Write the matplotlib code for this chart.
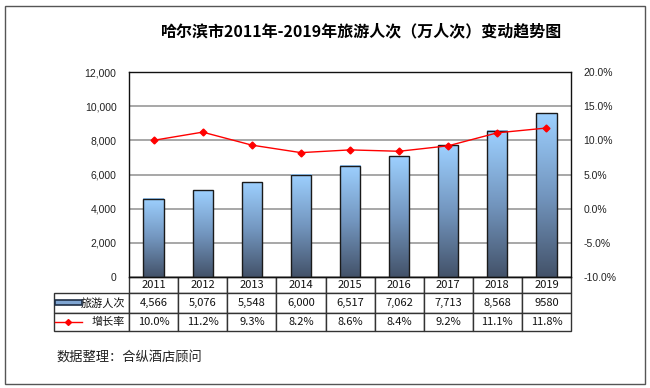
import numpy as np
import matplotlib
matplotlib.use("Agg")
import matplotlib.pyplot as plt
from matplotlib.patches import Rectangle
from matplotlib.lines import Line2D
from matplotlib.colors import LinearSegmentedColormap
from matplotlib.table import Table

plt.rcParams['font.family'] = ['Liberation Sans', 'Noto Sans CJK SC', 'DejaVu Sans']

years = ['2011', '2012', '2013', '2014', '2015', '2016', '2017', '2018', '2019']
visitors = [4566, 5076, 5548, 6000, 6517, 7062, 7713, 8568, 9580]
visitor_labels = ['4,566', '5,076', '5,548', '6,000', '6,517', '7,062', '7,713', '8,568', '9580']
growth = [10.0, 11.2, 9.3, 8.2, 8.6, 8.4, 9.2, 11.1, 11.8]
row_names = ['旅游人次', '增长率']

W, H = 650, 388
fig = plt.figure(figsize=(6.5, 3.88), dpi=100)

# outer frame
fig.add_artist(Rectangle((5 / W, 1 - 384 / H), 640 / W, 378 / H, transform=fig.transFigure,
                         fill=False, edgecolor='#555555', lw=1.0))

fig.text(362 / W, 1 - 31 / H, '哈尔滨市2011年-2019年旅游人次（万人次）变动趋势图',
         ha='center', va='center', fontsize=11.5, fontweight='bold',
         family=['Noto Sans CJK SC', 'DejaVu Sans'])

ax = fig.add_axes([129 / W, 1 - 277 / H, 442 / W, 205 / H])
x = np.arange(len(years))

cmap = LinearSegmentedColormap.from_list('bar', ['#435269', '#7396bf', '#9dd0ff'])
grad = np.linspace(0, 1, 256).reshape(-1, 1)
bars = ax.bar(x, visitors, width=0.41, facecolor='none', edgecolor='#1a1a1a', lw=1.0, zorder=3)
for b in bars:
    ax.imshow(grad, extent=[b.get_x(), b.get_x() + b.get_width(), 0, b.get_height()],
              origin='lower', cmap=cmap, aspect='auto', zorder=2)

ax.set_xlim(-0.5, len(years) - 0.5)
ax.set_ylim(0, 12000)
ax.set_yticks(range(0, 12001, 2000))
ax.set_yticklabels([f'{v:,}' for v in range(0, 12001, 2000)])
ax.set_xticks([])
ax.yaxis.grid(True, color='#8f8f8f', lw=1.1)
ax.set_axisbelow(True)
ax.tick_params(axis='y', length=0, pad=9, labelsize=7.5, labelcolor='#222222')
for s in ax.spines.values():
    s.set_color('#111111')
    s.set_linewidth(1.0)

ax2 = ax.twinx()
ax2.plot(x, growth, color='#ff0000', lw=1.0, marker='D', ms=3.5, zorder=5)
ax2.set_ylim(-10, 20)
ax2.set_yticks(range(-10, 21, 5))
ax2.set_yticklabels([f'{v:.1f}%' for v in range(-10, 21, 5)])
ax2.tick_params(axis='y', length=0, pad=9, labelsize=7.5, labelcolor='#222222')
for s in ax2.spines.values():
    s.set_visible(False)

# data table under the plot
tbl = Table(ax, bbox=[(54 - 129) / 442, (277 - 331) / 205, 517 / 442, 54 / 205])
cell_text = [[''] + years, [row_names[0]] + visitor_labels,
             [row_names[1]] + [f'{g:.1f}%' for g in growth]]
widths = [75] + [49] * len(years)
heights = [16, 20, 18]
for r, row in enumerate(cell_text):
    for c, txt in enumerate(row):
        cell = tbl.add_cell(r, c, width=widths[c], height=heights[r], text=txt,
                            loc='right' if c == 0 else 'center', edgecolor='#333333')
        cell.PAD = 0.05
        cell.get_text().set_fontsize(8)
        cell.get_text().set_family(['Noto Sans CJK SC', 'DejaVu Sans'])
        cell.get_text().set_color('#111111')
tbl[0, 0].visible_edges = 'open'
tbl.auto_set_font_size(False)
ax.add_table(tbl)

# legend keys in the row labels
fig.add_artist(Rectangle((55 / W, 1 - 305 / H), 27 / W, 5 / H, transform=fig.transFigure,
                         facecolor='#7fa5d2', edgecolor='#1f2f45', lw=1.2))
fig.add_artist(Line2D([55 / W, 82 / W], [1 - 322 / H] * 2, transform=fig.transFigure,
                      color='#ff0000', lw=1.0))
fig.add_artist(Line2D([68 / W], [1 - 322 / H], transform=fig.transFigure,
                      color='#ff0000', marker='D', ms=3))

fig.text(56 / W, 1 - 357 / H, '数据整理：合纵酒店顾问', ha='left', va='center',
         fontsize=9.5, color='#222222', family=['Noto Sans CJK SC', 'DejaVu Sans'])

fig.savefig('out.png', dpi=100)
